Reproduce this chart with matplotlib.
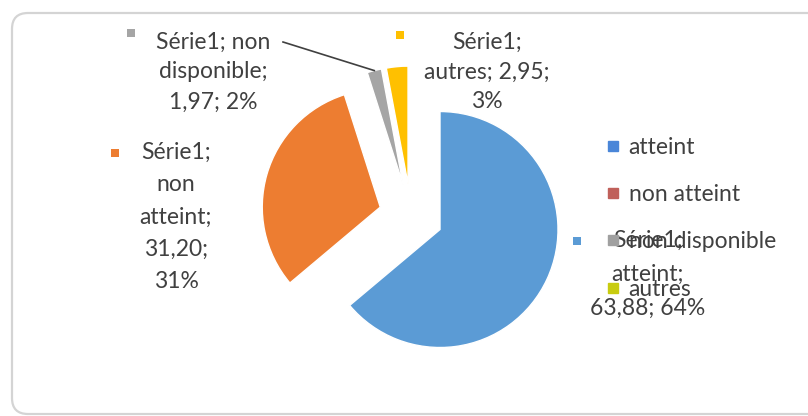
import numpy as np
import matplotlib
matplotlib.use("Agg")
import matplotlib.pyplot as plt
from matplotlib.patches import FancyBboxPatch, Rectangle
from matplotlib.lines import Line2D

plt.rcParams['font.family'] = ['Lato', 'DejaVu Sans']

# data
series_name = "Série1"
categories = ["atteint", "non atteint", "non disponible", "autres"]
values = [63.88, 31.20, 1.97, 2.95]
slice_colors = ["#5B9BD5", "#ED7D31", "#A5A5A5", "#FFC000"]
legend_colors = ["#4A86D8", "#C0605A", "#A0A0A0", "#C8CC10"]

W, H = 808, 416
fig = plt.figure(figsize=(W / 100, H / 100), dpi=100)
ax = fig.add_axes([0, 0, 1, 1])


def py(y):
    # pixel row (from top) -> data y
    return H - y


wedges, _ = ax.pie(values, colors=slice_colors, startangle=90, counterclock=False,
                   center=(411, py(216)), radius=118, explode=[32] * 4,
                   wedgeprops=dict(edgecolor="white", linewidth=1))
ax.set_xlim(0, W)
ax.set_ylim(0, H)
ax.set_aspect("equal")
ax.axis("off")

# chart area border
ax.add_patch(FancyBboxPatch((12, py(414)), 830, 401, boxstyle="round,pad=0,rounding_size=16",
                            fc="none", ec="#d4d4d4", lw=1.6, clip_on=True))

txt = "#404040"
fs = 16.5
total = sum(values)


def label_text(i):
    v = f"{values[i]:.2f}".replace(".", ",")
    p = round(values[i] / total * 100)
    return series_name, categories[i], v, p


# data labels: lines, text center x, first line y, line step, marker pos
def put_lines(lines, cx, y0, step, mx, my, color):
    for k, s in enumerate(lines):
        ax.text(cx, py(y0 + k * step), s, ha="center", va="center", fontsize=fs, color=txt)
    ax.add_patch(Rectangle((mx - 4, py(my) - 4), 8, 8, fc=color, ec="none"))


s, c, v, p = label_text(0)
put_lines([f"{s};", f"{c};", f"{v}; {p}%"], 648, 240, 34, 577, 241, slice_colors[0])

s, c, v, p = label_text(1)
put_lines([f"{s};", "non", "atteint;", f"{v};", f"{p}%"], 176, 152, 32.5, 115, 153, slice_colors[1])

s, c, v, p = label_text(2)
put_lines([f"{s}; non", "disponible;", f"{v}; {p}%"], 213, 42, 30, 131, 33, slice_colors[2])

s, c, v, p = label_text(3)
put_lines([f"{s};", f"{c}; {v};", f"{p}%"], 487, 42, 30, 400, 35, slice_colors[3])

# leader line to the grey slice
w = wedges[2]
tm = np.deg2rad((w.theta1 + w.theta2) / 2)
ex = w.center[0] + w.r * np.cos(tm)
ey = w.center[1] + w.r * np.sin(tm)
ax.plot([283, ex], [py(42), ey], color="#404040", lw=1.2)

# legend
handles = [Line2D([], [], marker="s", ls="none", markersize=7, color=col) for col in legend_colors]
ax.legend(handles, categories, loc="upper left", bbox_to_anchor=(585 / W, 1 - 116 / H),
          frameon=False, fontsize=fs, labelspacing=1.15, handlelength=0.6, handletextpad=0.4,
          labelcolor=txt)

fig.savefig("out.png", dpi=100)
